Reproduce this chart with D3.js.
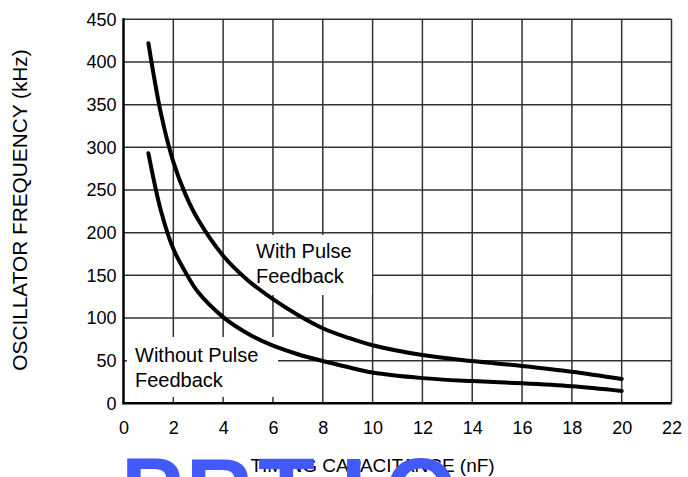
<!DOCTYPE html>
<html>
<head>
<meta charset="utf-8">
<script src="https://cdn.jsdelivr.net/npm/d3@7"></script>
<style>
  body { margin: 0; background: #fff; }
  text { font-family: "Liberation Sans", Arial, Helvetica, sans-serif; }
</style>
</head>
<body>
<div class="vis1"></div>
<script>
// capacitance (nF) vs oscillator frequency (kHz)
const withPulse = [
  { c: 1, f: 422 }, { c: 1.5, f: 340 }, { c: 2, f: 283 }, { c: 2.5, f: 244 },
  { c: 3, f: 215 }, { c: 4, f: 173 }, { c: 5, f: 144 }, { c: 6, f: 122 },
  { c: 7, f: 103.5 }, { c: 8, f: 88 }, { c: 9, f: 77 }, { c: 10, f: 68 },
  { c: 12, f: 56.5 }, { c: 14, f: 49.5 }, { c: 16, f: 43.7 }, { c: 18, f: 37 },
  { c: 20, f: 28.5 }
];
const withoutPulse = [
  { c: 1, f: 293 }, { c: 1.5, f: 226 }, { c: 2, f: 181 }, { c: 2.5, f: 153 },
  { c: 3, f: 130 }, { c: 4, f: 101 }, { c: 5, f: 81.5 }, { c: 6, f: 67.5 },
  { c: 7, f: 57.5 }, { c: 8, f: 49.5 }, { c: 9, f: 42.5 }, { c: 10, f: 36 },
  { c: 12, f: 29.5 }, { c: 14, f: 26 }, { c: 16, f: 23.5 }, { c: 18, f: 20 },
  { c: 20, f: 14.5 }
];
const xTicks = [0, 2, 4, 6, 8, 10, 12, 14, 16, 18, 20, 22];
const yTicks = [0, 50, 100, 150, 200, 250, 300, 350, 400, 450];
const stamp = ["P", "R", "T", "I", "O"];

const W = 688, H = 477;
const svg = d3.select(".vis1")
  .append("svg")
  .attr("width", W)
  .attr("height", H);

const xScale = d3.scaleLinear().domain([0, 22]).range([123.5, 671.5]);
const yScale = d3.scaleLinear().domain([0, 450]).range([403.3, 19.3]);

// grid
svg.append("g")
  .selectAll("line.v")
  .data(xTicks.slice(1))
  .enter().append("line")
  .attr("x1", d => xScale(d)).attr("x2", d => xScale(d))
  .attr("y1", yScale(0)).attr("y2", yScale(450))
  .attr("stroke", "#333").attr("stroke-width", 1.5);

svg.append("g")
  .selectAll("line.h")
  .data(yTicks.slice(1))
  .enter().append("line")
  .attr("x1", xScale(0)).attr("x2", xScale(22))
  .attr("y1", d => yScale(d)).attr("y2", d => yScale(d))
  .attr("stroke", "#333").attr("stroke-width", 1.5);

// axes with labels only, lines drawn separately
const xAxis = svg.append("g")
  .attr("transform", "translate(0," + yScale(0) + ")")
  .call(d3.axisBottom(xScale).tickValues(xTicks).tickSize(0).tickPadding(18));
xAxis.select(".domain").remove();
xAxis.selectAll("text")
  .attr("font-size", 18).attr("font-family", "Liberation Sans, Arial, sans-serif")
  .attr("fill", "#000");

const yAxis = svg.append("g")
  .attr("transform", "translate(" + xScale(0) + ",0)")
  .call(d3.axisLeft(yScale).tickValues(yTicks).tickSize(0).tickPadding(7));
yAxis.select(".domain").remove();
yAxis.selectAll("text")
  .attr("font-size", 18).attr("font-family", "Liberation Sans, Arial, sans-serif")
  .attr("fill", "#000");

// left and bottom frame
svg.append("line")
  .attr("x1", xScale(0)).attr("x2", xScale(0))
  .attr("y1", yScale(450) - 1).attr("y2", yScale(0) + 1)
  .attr("stroke", "#000").attr("stroke-width", 2.5);
svg.append("line")
  .attr("x1", xScale(0) - 1).attr("x2", xScale(22))
  .attr("y1", yScale(0)).attr("y2", yScale(0))
  .attr("stroke", "#000").attr("stroke-width", 2.5);

// white boxes behind the curve labels
svg.append("rect")
  .attr("x", 240).attr("y", 235).attr("width", 132).attr("height", 60)
  .attr("fill", "#fff");
svg.append("rect")
  .attr("x", 127).attr("y", 337).attr("width", 151).attr("height", 60)
  .attr("fill", "#fff");

const labels = svg.append("g").attr("font-size", 20).attr("fill", "#000");
labels.append("text").attr("x", 256).attr("y", 258).text("With Pulse");
labels.append("text").attr("x", 256).attr("y", 283).text("Feedback");
labels.append("text").attr("x", 135).attr("y", 361.5).text("Without Pulse");
labels.append("text").attr("x", 135).attr("y", 386.5).text("Feedback");

// curves
const line = d3.line()
  .x(d => xScale(d.c))
  .y(d => yScale(d.f))
  .curve(d3.curveCatmullRom.alpha(0.5));

[withPulse, withoutPulse].forEach(s => {
  svg.append("path")
    .datum(s)
    .attr("fill", "none")
    .attr("stroke", "#000")
    .attr("stroke-width", 4)
    .attr("stroke-linecap", "round")
    .attr("d", line);
});

// axis titles
svg.append("text")
  .attr("transform", "translate(27,210) rotate(-90)")
  .attr("text-anchor", "middle")
  .attr("font-size", 20.8)
  .text("OSCILLATOR FREQUENCY (kHz)");

svg.append("text")
  .attr("x", (xScale(0) + xScale(20)) / 2)
  .attr("y", 471.5)
  .attr("text-anchor", "middle")
  .attr("font-size", 19)
  .text("TIMING CAPACITANCE (nF)");

// blue stamp running off the bottom edge
const stampX = d3.scalePoint().domain(d3.range(stamp.length)).range([152, 421]);
svg.append("g")
  .selectAll("text")
  .data(stamp)
  .enter().append("text")
  .attr("x", (d, i) => stampX(i))
  .attr("y", 523)
  .attr("text-anchor", "middle")
  .attr("font-size", 93)
  .attr("font-weight", "bold")
  .attr("fill", "#4159fd")
  .text(d => d);
</script>
</body>
</html>
